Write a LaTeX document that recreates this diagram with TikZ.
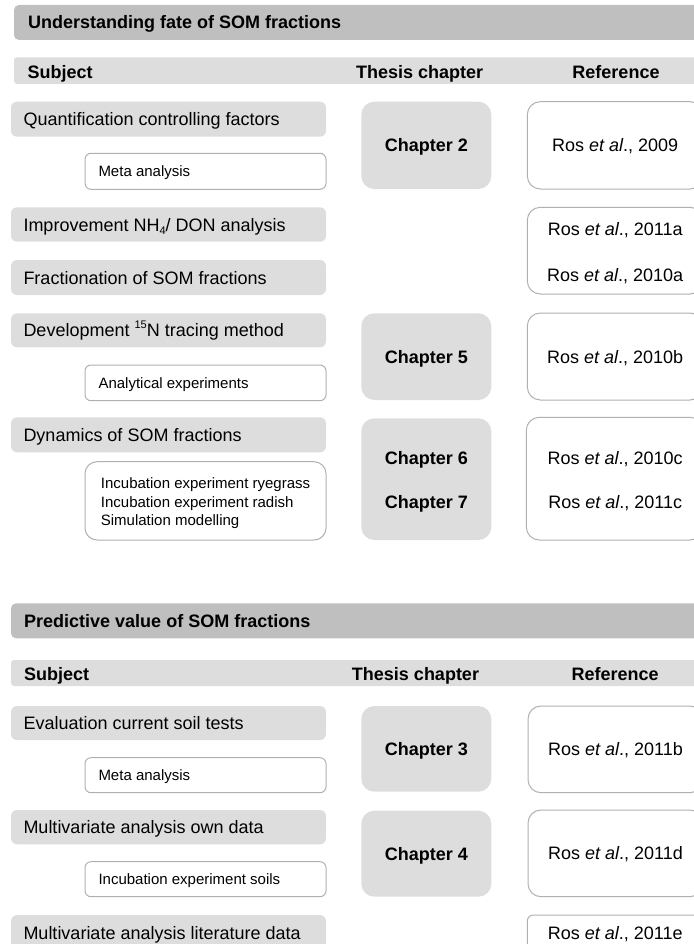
\documentclass[tikz,border=0pt]{standalone}
\usepackage{fontspec}
\setmainfont{Liberation Sans}
\definecolor{titlegray}{HTML}{BFBFBF}
\definecolor{boxgray}{HTML}{DDDDDD}
\definecolor{linegray}{HTML}{B0B0B0}
\newcommand\FBig{\fontsize{18}{21.6}\selectfont}
\newcommand\FSmall{\fontsize{15}{18}\selectfont}
\newcommand\lowfour{\raisebox{-0.22em}{\fontsize{11}{11}\selectfont 4}}
\newcommand\highfifteen{\raisebox{0.45em}{\fontsize{11}{11}\selectfont 15}}
\newcommand\rosref[1]{Ros \textit{et al}., #1}
\begin{document}
\begin{tikzpicture}[x=1pt,y=-1pt,
  boxbase/.style={anchor=north west, inner sep=0pt, outer sep=0pt},
  titlebar/.style={boxbase, fill=titlegray, rounded corners=5pt},
  hdrbar/.style={boxbase, fill=boxgray, rounded corners=3pt},
  subjbox/.style={boxbase, fill=boxgray, rounded corners=6pt},
  subbox/.style={boxbase, fill=white, draw=linegray, line width=1pt, rounded corners=6pt},
  chapbox/.style={boxbase, fill=boxgray, rounded corners=13pt},
  refbox/.style={boxbase, fill=white, draw=linegray, line width=1pt, rounded corners=13pt},
  txt/.style={inner sep=0pt, font=\FBig, text height=13pt, text depth=0pt},
  btxt/.style={txt, font=\FBig\bfseries},
  stxt/.style={inner sep=0pt, font=\FSmall, text height=10.8pt, text depth=0pt},
]
\useasboundingbox (0,0) rectangle (693,944);

% ===== Section 1 =====
\node[titlebar, minimum width=700pt, minimum height=35pt] (t1) at (14,5) {};
\node[btxt, anchor=west] (t1t) at (28,22.3) {Understanding fate of SOM fractions};
\node[hdrbar, minimum width=700pt, minimum height=26.7pt] (h1) at (14,57.3) {};
\node[btxt, anchor=west] (h1a) at (27.3,71.8) {Subject};
\node[btxt] (h1b) at (419.7,71.8) {Thesis chapter};
\node[btxt] (h1c) at (616,71.8) {Reference};

% row: quantification
\node[subjbox, minimum width=315pt, minimum height=35pt] (q) at (11,101.7) {};
\node[txt, anchor=west] (qt) at ([xshift=12.3pt]q.west) {Quantification controlling factors};
\node[subbox, minimum width=241pt, minimum height=36pt] (m1) at (85,153.3) {};
\node[stxt, anchor=west] (m1t) at ([xshift=13.3pt]m1.west) {Meta analysis};
\node[chapbox, minimum width=130pt, minimum height=87.3pt] (c2) at (361.3,101.7) {};
\node[btxt] (c2t) at (c2.center) {Chapter 2};
\node[refbox, minimum width=175.7pt, minimum height=87.3pt] (r1) at (527.3,101.7) {};
\node[txt] (r1t) at (r1.center) {\rosref{2009}};

% rows: improvement / fractionation
\node[subjbox, minimum width=315pt, minimum height=34.4pt] (imp) at (11,207.3) {};
\node[txt, anchor=west] (impt) at ([xshift=12.3pt]imp.west) {Improvement NH\lowfour/ DON analysis};
\node[subjbox, minimum width=315pt, minimum height=35pt] (fr) at (11,260) {};
\node[txt, anchor=west] (frt) at ([xshift=12.3pt]fr.west) {Fractionation of SOM fractions};
\node[refbox, minimum width=175.7pt, minimum height=86.7pt] (ra) at (527.3,207.3) {};
\node[txt] (rat1) at (615.2,228.5) {\rosref{2011a}};
\node[txt] (rat2) at (615.2,275) {\rosref{2010a}};

% row: development
\node[subjbox, minimum width=315pt, minimum height=34pt] (dev) at (11,313.3) {};
\node[txt, anchor=west] (devt) at ([xshift=12.3pt]dev.west) {Development \highfifteen N tracing method};
\node[subbox, minimum width=241pt, minimum height=35.7pt] (an) at (85,365) {};
\node[stxt, anchor=west] (ant) at ([xshift=13.3pt]an.west) {Analytical experiments};
\node[chapbox, minimum width=130pt, minimum height=86.7pt] (c5) at (361.3,313.3) {};
\node[btxt] (c5t) at (c5.center) {Chapter 5};
\node[refbox, minimum width=175.7pt, minimum height=87pt] (rb) at (527.3,313) {};
\node[txt] (rbt) at (rb.center) {\rosref{2010b}};

% row: dynamics
\node[subjbox, minimum width=315pt, minimum height=35pt] (dyn) at (11,417.3) {};
\node[txt, anchor=west] (dynt) at ([xshift=12.3pt]dyn.west) {Dynamics of SOM fractions};
\node[subbox, rounded corners=12pt, minimum width=241pt, minimum height=78.3pt] (inc) at (85,461.7) {};
\node[stxt, anchor=west] (inc1) at (100.7,482.7) {Incubation experiment ryegrass};
\node[stxt, anchor=west] (inc2) at (100.7,501.7) {Incubation experiment radish};
\node[stxt, anchor=west] (inc3) at (100.7,520.2) {Simulation modelling};
\node[chapbox, minimum width=130pt, minimum height=121.7pt] (c67) at (361.3,418.3) {};
\node[btxt] (c6t) at (426.3,457.5) {Chapter 6};
\node[btxt] (c7t) at (426.3,501.7) {Chapter 7};
\node[refbox, minimum width=176.7pt, minimum height=122.7pt] (rc) at (526.3,417.3) {};
\node[txt] (rct1) at (615.2,457.5) {\rosref{2010c}};
\node[txt] (rct2) at (615.2,501.7) {\rosref{2011c}};

% ===== Section 2 =====
\node[titlebar, minimum width=703pt, minimum height=35pt] (t2) at (11,603.3) {};
\node[btxt, anchor=west] (t2t) at (24,620.8) {Predictive value of SOM fractions};
\node[hdrbar, minimum width=703pt, minimum height=26pt] (h2) at (11,660) {};
\node[btxt, anchor=west] (h2a) at (24,673.5) {Subject};
\node[btxt] (h2b) at (415.5,673.5) {Thesis chapter};
\node[btxt] (h2c) at (615.2,673.5) {Reference};

% row: evaluation
\node[subjbox, minimum width=315pt, minimum height=34pt] (ev) at (11,706) {};
\node[txt, anchor=west] (evt) at ([xshift=12.3pt]ev.west) {Evaluation current soil tests};
\node[subbox, minimum width=241pt, minimum height=35pt] (m2) at (85,757.7) {};
\node[stxt, anchor=west] (m2t) at ([xshift=13.3pt]m2.west) {Meta analysis};
\node[chapbox, minimum width=130pt, minimum height=85.7pt] (c3) at (361.3,706) {};
\node[btxt] (c3t) at (c3.center) {Chapter 3};
\node[refbox, minimum width=175pt, minimum height=86.7pt] (rd) at (528,706) {};
\node[txt] (rdt) at (rd.center) {\rosref{2011b}};

% row: multivariate own
\node[subjbox, minimum width=315pt, minimum height=34.3pt] (mo) at (11,810) {};
\node[txt, anchor=west] (mot) at ([xshift=12.3pt]mo.west) {Multivariate analysis own data};
\node[subbox, minimum width=241pt, minimum height=35pt] (is) at (85,861.7) {};
\node[stxt, anchor=west] (ist) at ([xshift=13.3pt]is.west) {Incubation experiment soils};
\node[chapbox, minimum width=130pt, minimum height=86pt] (c4) at (361.3,810.7) {};
\node[btxt] (c4t) at (c4.center) {Chapter 4};
\node[refbox, minimum width=175pt, minimum height=86.7pt] (re) at (528,810) {};
\node[txt] (ret) at (re.center) {\rosref{2011d}};

% row: multivariate literature
\node[subjbox, minimum width=315pt, minimum height=35pt] (ml) at (11,915) {};
\node[txt, anchor=west] (mlt) at ([xshift=12.3pt]ml.west) {Multivariate analysis literature data};
\node[refbox, rounded corners=6pt, minimum width=175.7pt, minimum height=35pt] (rf) at (527.3,915) {};
\node[txt] (rft) at (rf.center) {\rosref{2011e}};
\end{tikzpicture}
\end{document}
